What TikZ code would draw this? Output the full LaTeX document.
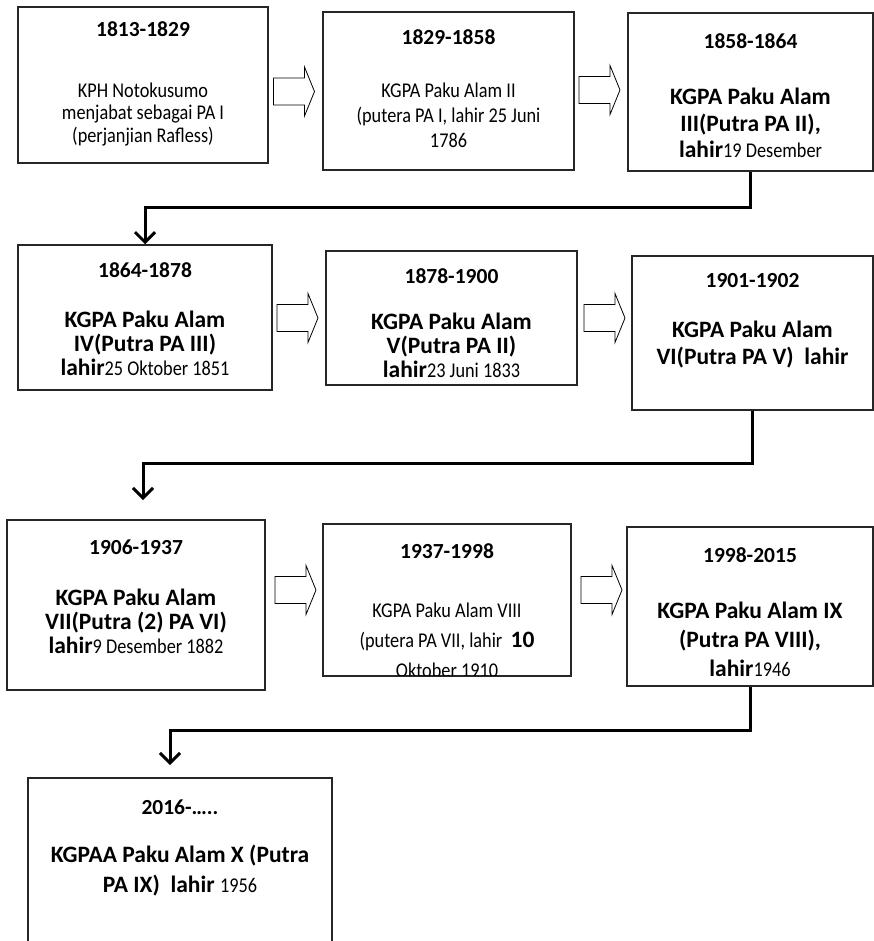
\documentclass[tikz,border=0pt]{standalone}
\usepackage{fontspec}
\setmainfont{Carlito}[FakeStretch=0.87]
\newfontfamily\boldfam{Carlito}
\usetikzlibrary{positioning,arrows.meta}

\newcommand{\rg}[1]{{\fontsize{21}{22.5}\normalfont #1}}
\newcommand{\bd}[1]{{\fontsize{23.5}{26.5}\boldfam\bfseries #1}}

\tikzset{
	box/.style={draw=black!85, line width=1.5pt, fill=white, inner sep=0pt},
	year/.style={font=\fontsize{21.5}{25}\boldfam\bfseries, inner sep=0pt, text height=15pt, text depth=5pt},
	plain/.style={font=\fontsize{21}{22.5}\selectfont, align=center, inner sep=0pt, execute at begin node=\strut},
	heavy/.style={font=\fontsize{23.5}{26.5}\boldfam\bfseries, align=center, inner sep=0pt, execute at begin node=\strut},
	link/.style={line width=3pt, -{Straight Barb[length=10pt,width=20pt]}},
	pics/hollow/.style={code={
		\draw[line width=0.8pt, fill=white] (-21,-13.5) -- (10,-13.5) -- (10,-24.5) -- (20,0)
			-- (10,24.5) -- (10,13.5) -- (-21,13.5) -- cycle;}}
}

\begin{document}
\begin{tikzpicture}[x=1pt, y=-1pt]
	
	\useasboundingbox (0,0) rectangle (874,941);
	\clip (0,0) rectangle (874,941);
	
	% first row
	\node[box, minimum width=250pt, minimum height=156pt] (a) at (143,85) {};
	\node[box, minimum width=251pt, minimum height=158pt] (b) at (448.5,91) {};
	\node[box, minimum width=245pt, minimum height=158pt] (c) at (750.5,92) {};
	\node[year, below=15pt of a.north] (a-y) {1813-1829};
	\node[plain, below=76pt of a.north] (a-t) {KPH Notokusumo\\menjabat sebagai PA I\\(perjanjian Rafless)};
	\node[year, below=18pt of b.north] (b-y) {1829-1858};
	\node[plain, font=\fontsize{21}{25}\selectfont, below=71pt of b.north] (b-t) {KGPA Paku Alam II\\(putera PA I, lahir 25 Juni\\1786};
	\node[year, below=21pt of c.north] (c-y) {1858-1864};
	\node[heavy, below=76pt of c.north] (c-t) {KGPA Paku Alam\\III(Putra PA II),\\lahir\rg{19 Desember}};
	\pic at (294.5,91.5) {hollow};
	\pic at (600,90) {hollow};
	
	% second row
	\node[box, minimum width=254pt, minimum height=145pt] (d) at (145,317.5) {};
	\node[box, minimum width=251pt, minimum height=134pt] (e) at (451.5,318) {};
	\node[box, minimum width=241pt, minimum height=154pt] (f) at (752.5,333) {};
	\node[year, below=18pt of d.north] (d-y) {1864-1878};
	\node[heavy, font=\fontsize{23.5}{24}\boldfam\bfseries, below=67pt of d.north] (d-t) {KGPA Paku Alam\\IV(Putra PA III)\\lahir\rg{25 Oktober 1851}};
	\node[year, below=18pt of e.north] (e-y) {1878-1900};
	\node[heavy, font=\fontsize{23.5}{24}\boldfam\bfseries, below=63pt of e.north] (e-t) {KGPA Paku Alam\\V(Putra PA II)\\lahir\rg{23 Juni 1833}};
	\node[year, below=17pt of f.north] (f-y) {1901-1902};
	\node[heavy, below=66pt of f.north] (f-t) {KGPA Paku Alam\\VI(Putra PA V)\ \ lahir};
	\pic at (298,318) {hollow};
	\pic at (605,318) {hollow};
	
	% third row
	\node[box, minimum width=258pt, minimum height=170pt] (g) at (136,605) {};
	\node[box, minimum width=248pt, minimum height=152pt] (h) at (447,600) {};
	\node[box, minimum width=246pt, minimum height=159pt] (i) at (750,606.5) {};
	\node[year, below=20pt of g.north] (g-y) {1906-1937};
	\node[heavy, font=\fontsize{23.5}{24}\boldfam\bfseries, below=70pt of g.north] (g-t) {KGPA Paku Alam\\VII(Putra (2) PA VI)\\lahir\rg{9 Desember 1882}};
	\node[year, below=20pt of h.north] (h-y) {1937-1998};
	\begin{scope}
		\clip ([yshift=1pt]h.south west) rectangle (h.north east);
		\node[plain, font=\fontsize{21}{30}\selectfont, below=79pt of h.north] (h-t) {KGPA Paku Alam VIII\\(putera PA VII, lahir\ \ \bd{10}\\Oktober 1910};
	\end{scope}
	\node[year, below=21pt of i.north] (i-y) {1998-2015};
	\node[heavy, font=\fontsize{23.5}{29}\boldfam\bfseries, below=76pt of i.north] (i-t) {KGPA Paku Alam IX\\(Putra PA VIII),\\lahir\rg{1946}};
	\pic at (296,590) {hollow};
	\pic at (602,590) {hollow};
	
	% last row
	\node[box, minimum width=304pt, minimum height=182pt] (j) at (180,869) {};
	\node[year, below=22pt of j.north] (j-y) {2016-\dots..};
	\node[heavy, font=\fontsize{23.5}{30}\boldfam\bfseries, below=68pt of j.north] (j-t) {KGPAA Paku Alam X (Putra\\PA IX)\ \ lahir \rg{1956}};
	
	% connectors between the rows
	\coordinate (k1) at (145,208);
	\draw[link] (c.south) |- (k1) -- (d.north);
	\coordinate (k2) at (143,463);
	\coordinate (t2) at (143,500);
	\draw[link] (f.south) |- (k2) -- (t2);
	\coordinate (k3) at (170,730);
	\coordinate (t3) at (170,765);
	\draw[link] (i.south) |- (k3) -- (t3);
	
\end{tikzpicture}
\end{document}
